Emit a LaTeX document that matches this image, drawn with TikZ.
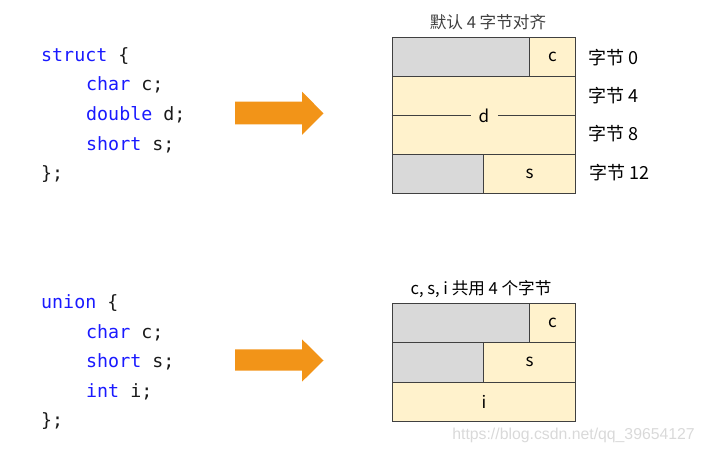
\documentclass[tikz,border=0pt]{standalone}
\usepackage{fontspec}
\setmainfont{Noto Sans CJK SC}
\newfontfamily\codefont{DejaVu Sans Mono}
\newfontfamily\wmfont{Liberation Sans}
\definecolor{kw}{HTML}{1A1AFF}
\definecolor{codeblack}{HTML}{1A1A1A}
\definecolor{padgray}{HTML}{D9D9D9}
\definecolor{cellyellow}{HTML}{FFF2CC}
\definecolor{border}{HTML}{404040}
\definecolor{arroworange}{HTML}{F29418}
\definecolor{wmgray}{HTML}{D9D9D9}
\tikzset{
  code/.style={anchor=base west, inner sep=0pt, font=\codefont\fontsize{18.3}{21}\selectfont, text=codeblack},
  cell/.style={draw=border, line width=1.1pt, anchor=north west, inner sep=0pt, font=\fontsize{17}{20}\selectfont},
  pad/.style={cell, fill=padgray},
  mem/.style={cell, fill=cellyellow},
  offs/.style={anchor=west, inner sep=0pt, font=\fontsize{18}{21}\selectfont},
  ttl/.style={anchor=center, inner sep=0pt, font=\fontsize{16.6}{20}\selectfont},
  bigarrow/.style={fill=arroworange},
}
\begin{document}
\begin{tikzpicture}[x=1pt,y=-1pt]
\useasboundingbox (0,0) rectangle (705,454);

% struct code
\node[code] (s1) at (41,61.5) {\textcolor{kw}{struct} \{};
\node[code] (s2) at (86,91) {\textcolor{kw}{char} c;};
\node[code] (s3) at (86,121) {\textcolor{kw}{double} d;};
\node[code] (s4) at (86,151) {\textcolor{kw}{short} s;};
\node[code] (s5) at (41,180) {\};};

% union code
\node[code] (u1) at (41,308.5) {\textcolor{kw}{union} \{};
\node[code] (u2) at (86,338.5) {\textcolor{kw}{char} c;};
\node[code] (u3) at (86,368) {\textcolor{kw}{short} s;};
\node[code] (u4) at (86,398) {\textcolor{kw}{int} i;};
\node[code] (u5) at (41,427) {\};};

% arrows
\fill[bigarrow] (235,101.7) -- (302,101.7) -- (302,91.7) -- (323.5,113.3) -- (302,135) -- (302,124.3) -- (235,124.3) -- cycle;
\fill[bigarrow] (235,349.3) -- (302,349.3) -- (302,339.3) -- (323.5,360.5) -- (302,381.7) -- (302,370.7) -- (235,370.7) -- cycle;

% struct layout
\node[ttl, text=border] (st) at (488,22) {默认 4 字节对齐};
\node[pad, minimum width=137.3pt, minimum height=39.3pt] (sg1) at (391.7,36.7) {};
\node[mem, minimum width=46pt, minimum height=39.3pt] (sc) at (529,36.7) {c};
\node[mem, minimum width=183.3pt, minimum height=78pt] (sd) at (391.7,76) {};
\node[inner sep=0pt, font=\fontsize{17}{20}\selectfont] (sdl) at (sd.center) {d};
\coordinate (sdw) at (sd.west);
\coordinate (sde) at (sd.east);
\draw[border, line width=1.1pt] (sdw) -- ([xshift=-13pt]sdl.center);
\draw[border, line width=1.1pt] ([xshift=14pt]sdl.center) -- (sde);
\node[pad, minimum width=91.6pt, minimum height=38.7pt] (sg2) at (391.7,154) {};
\node[mem, minimum width=91.7pt, minimum height=38.7pt] (ss) at (483.3,154) {s};

\node[offs] (o0) at (588,57.5) {字节 0};
\node[offs] (o4) at (588,96) {字节 4};
\node[offs] (o8) at (588,133.5) {字节 8};
\node[offs] (o12) at (589,173) {字节 12};

% union layout
\node[ttl] (ut) at (481,289) {c, s, i 共用 4 个字节};
\node[pad, minimum width=137.3pt, minimum height=38.4pt] (ug1) at (391.7,303.3) {};
\node[mem, minimum width=46pt, minimum height=38.4pt] (uc) at (529,303.3) {c};
\node[pad, minimum width=91.6pt, minimum height=40pt] (ug2) at (391.7,341.7) {};
\node[mem, minimum width=91.7pt, minimum height=40pt] (us) at (483.3,341.7) {s};
\node[mem, minimum width=183.3pt, minimum height=39pt] (ui) at (391.7,381.7) {i};

% watermark
\node[anchor=east, inner sep=0pt, text=wmgray, font=\wmfont\fontsize{15.8}{18}\selectfont] (wm) at (695,435) {https://blog.csdn.net/qq\_39654127};
\end{tikzpicture}
\end{document}
